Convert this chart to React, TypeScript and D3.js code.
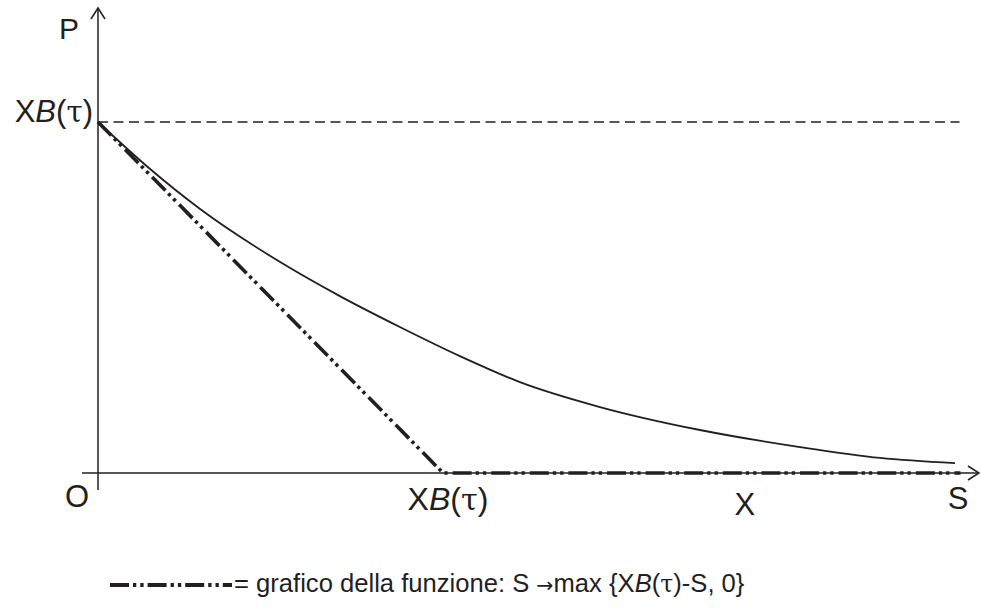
import * as d3 from 'd3';

// S measured in units of the strike XB(τ); P in the same units
const curveS = [0, 0.151, 0.296, 0.528, 0.701, 0.875, 1.049, 1.223, 1.455, 1.745, 2.035, 2.267, 2.484];
const curveP = [1, 0.866, 0.752, 0.601, 0.504, 0.416, 0.333, 0.259, 0.188, 0.1225, 0.074, 0.043, 0.028];

const payoffS = [0, 1, 2.5];
const payoffP = [1, 0, 0];

const strike = 1;
const sMax = 2.5;
const xLabelS = 1.875;

const width = 981;
const height = 612;
const originX = 98;
const originY = 473;

const x = d3.scaleLinear().domain([0, 1]).range([originX, 443]);
const y = d3.scaleLinear().domain([0, 1]).range([originY, 122]);

const font = '"Liberation Sans", Arial, sans-serif';
const ink = '#231f20';
const dashDotDot = '19,4,3.3,4,3.3,5';

const App = () => {
  const curve = d3.line<number>()
    .x((_, i) => x(curveS[i]))
    .y((_, i) => y(curveP[i]))
    .curve(d3.curveMonotoneX)(curveS.map((_, i) => i)) || '';

  const payoff = d3.line<number>()
    .x((_, i) => x(payoffS[i]))
    .y((_, i) => y(payoffP[i]))(payoffS.map((_, i) => i)) || '';

  const xAxisEnd = 979;
  const yAxisTop = 8;

  const xbLabel = (key: string, px: number, py: number, anchor: string, size: number) => (
    <text key={key} x={px} y={py} fontSize={size} fontFamily={font} textAnchor={anchor} fill={ink}>
      X<tspan fontStyle="italic">B</tspan>(<tspan fontFamily='"DejaVu Serif", serif' fontSize={size * 0.95}>τ</tspan>)
    </text>
  );

  return (
    <svg width={width} height={height} style={{ position: 'absolute', left: 0, top: 0, background: '#fff' }}>
      {/* axes */}
      <g stroke={ink} strokeWidth={1.5} fill="none">
        <line x1={82} y1={originY} x2={xAxisEnd} y2={originY} />
        <polyline points={`${xAxisEnd - 11},${originY - 7} ${xAxisEnd},${originY} ${xAxisEnd - 11},${originY + 7}`} />
        <line x1={originX} y1={490} x2={originX} y2={yAxisTop} />
        <polyline points={`${originX - 7},${yAxisTop + 11} ${originX},${yAxisTop} ${originX + 7},${yAxisTop + 11}`} />
      </g>

      {/* asymptote P = XB(τ) */}
      <line x1={x(0)} y1={y(strike)} x2={x(sMax) - 1} y2={y(strike)} stroke={ink} strokeWidth={1.5} strokeDasharray="10,5.5" />

      {/* put value curve */}
      <path d={curve} fill="none" stroke={ink} strokeWidth={1.8} />

      {/* payoff */}
      <path d={payoff} fill="none" stroke={ink} strokeWidth={3.6} strokeDasharray={dashDotDot} />

      {/* labels */}
      <text x={59} y={39} fontSize={30} fontFamily={font} fill={ink}>P</text>
      {xbLabel('top', 93, 122, 'end', 31)}
      <text x={77} y={507} fontSize={31} fontFamily={font} textAnchor="middle" fill={ink}>O</text>
      {xbLabel('bottom', 448, 510, 'middle', 32)}
      <text x={x(xLabelS)} y={515} fontSize={31} fontFamily={font} textAnchor="middle" fill={ink}>X</text>
      <text x={958} y={509} fontSize={31} fontFamily={font} textAnchor="middle" fill={ink}>S</text>

      {/* legend */}
      <line x1={110} y1={585} x2={232} y2={585} stroke={ink} strokeWidth={4} strokeDasharray="19,4,3.3,4,3.3,4" />
      <text x={234} y={592} fontSize={25.6} fontFamily={font} fill={ink}>
        = grafico della funzione: S <tspan fontFamily='"DejaVu Sans", sans-serif' fontSize={20.5}>→</tspan>max {'{'}X<tspan fontStyle="italic">B</tspan>(<tspan fontFamily='"DejaVu Serif", serif' fontSize={23.5}>τ</tspan>)-S, 0{'}'}
      </text>
    </svg>
  );
};

export default App;
